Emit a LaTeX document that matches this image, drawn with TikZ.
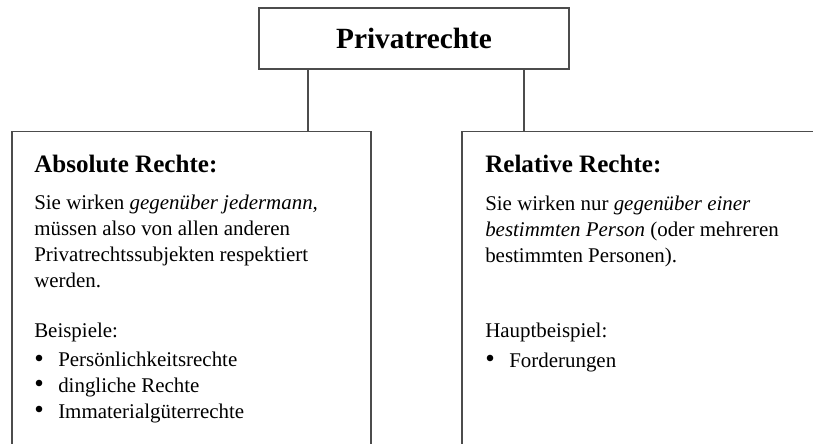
\documentclass[tikz,border=0pt]{standalone}
\usepackage{fontspec}
\setmainfont{Liberation Serif}
\usetikzlibrary{positioning}

\newcommand{\itembullet}[1]{\makebox[18pt][l]{\raisebox{-0.05ex}{\scalebox{1.3}{\textbullet}}}#1}

\begin{document}
\begin{tikzpicture}[
x=0.75pt, y=-0.75pt,
every node/.style={inner sep=0pt},
box/.style={draw=black!70, line width=0.8pt},
link/.style={draw=black!70, line width=0.8pt},
head/.style={anchor=base west, font=\fontsize{18.8}{22}\selectfont\bfseries},
body/.style={anchor=base west, align=left, font=\fontsize{15.7}{19.3}\selectfont},
]
\useasboundingbox (0,0) rectangle (813,443);
\clip (0,0) rectangle (813,443);

% top box
\node[box, minimum width=232.5pt, minimum height=45.75pt,
  font=\fontsize{22}{26}\selectfont\bfseries] (priv) at (414,38.5) {Privatrechte};

% lower boxes, cut off at the bottom
\node[box, minimum width=269.25pt, minimum height=254pt] (abs) at (191.5,300.5) {};
\node[box, minimum width=276pt, minimum height=254pt] (rel) at (646,300.5) {};

\coordinate (absx) at (308,0);
\coordinate (relx) at (524,0);
\draw[link] (priv.south -| absx) -- (abs.north -| absx);
\draw[link] (priv.south -| relx) -- (rel.north -| relx);

% Absolute Rechte (multi-line nodes sit on their last baseline)
\node[head] (abshead) at (34,172) {Absolute Rechte:};
\node[body] (abstext) at (34,287) {Sie wirken \textit{gegenüber jedermann,}\\
  müssen also von allen anderen\\
  Privatrechtssubjekten respektiert\\
  werden.};
\node[body] (absbsp) at (34,337) {Beispiele:};
\node[body] (abslist) at (34,418) {\itembullet{Persönlichkeitsrechte}\\
  \itembullet{dingliche Rechte}\\
  \itembullet{Immaterialgüterrechte}};

% Relative Rechte
\node[head] (relhead) at (485,172) {Relative Rechte:};
\node[body] (reltext) at (485,262) {Sie wirken nur \textit{gegenüber einer}\\
  \textit{bestimmten Person} (oder mehreren\\
  bestimmten Personen).};
\node[body] (relbsp) at (485,337) {Hauptbeispiel:};
\node[body] (rellist) at (485,367) {\itembullet{Forderungen}};
\end{tikzpicture}
\end{document}
